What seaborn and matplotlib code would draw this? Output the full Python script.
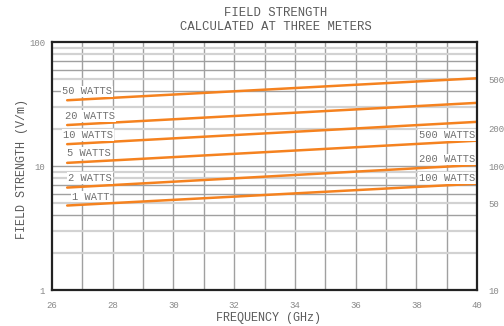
import numpy as np
import pandas as pd
import matplotlib
matplotlib.use("Agg")
import matplotlib.pyplot as plt
import seaborn as sns

# line end points (V/m at 26.5 GHz and 40 GHz)
freq_start = 26.5
freq_end = 40.0
powers = ['1 WATT', '2 WATTS', '5 WATTS', '10 WATTS', '20 WATTS', '50 WATTS']
e_start = [4.8, 6.7, 10.6, 15.0, 21.4, 33.9]
e_end = [7.2, 10.2, 16.0, 22.7, 32.3, 51.0]

# labels on the right side (higher power, read against the right scale)
right_labels = ['500 WATTS', '200 WATTS', '100 WATTS']

right_ticks = [10, 50, 100, 200, 500]
x_ticks = [26, 28, 30, 32, 34, 36, 38, 40]

rows = []
for p, a, b in zip(powers, e_start, e_end):
    rows.append({'freq': freq_start, 'field': a, 'power': p})
    rows.append({'freq': freq_end, 'field': b, 'power': p})
df = pd.DataFrame(rows)

sns.set_style("white")
plt.rcParams['font.family'] = ['Liberation Mono', 'DejaVu Sans Mono']

orange = '#f5821f'
txt = '#707070'
tick_c = '#888888'

fig = plt.figure(figsize=(5.04, 3.26), dpi=100)
ax = fig.add_axes([52 / 504, 1 - 290 / 326, 425 / 504, 248 / 326])

# grid
for x in range(27, 40):
    ax.axvline(x, color='#a0a0a0', lw=1.0, zorder=1)
dark_h = [4, 6, 7, 10, 40, 60, 70]
light_h = [2, 3, 5, 8, 9, 20, 30, 50, 80, 90]
for v in dark_h:
    ax.axhline(v, color='#a0a0a0', lw=1.0, zorder=1)
for v in light_h:
    ax.axhline(v, color='#d2d2d2', lw=1.6, zorder=1)

sns.lineplot(data=df, x='freq', y='field', hue='power',
             palette=[orange] * len(powers), lw=1.8, legend=False,
             ax=ax, zorder=3)

ax.set_yscale('log')
ax.set_xlim(26, 40)
ax.set_ylim(1, 100)
ax.set_xticks(x_ticks)
ax.set_xticklabels([str(t) for t in x_ticks])
ax.set_yticks([1, 10, 100])
ax.set_yticklabels(['1', '10', '100'])
ax.yaxis.set_minor_locator(matplotlib.ticker.NullLocator())
ax.tick_params(axis='both', length=0, labelsize=6.5, colors=tick_c)
ax.tick_params(axis='x', pad=8)
ax.tick_params(axis='y', pad=5)
ax.set_xlabel('')
ax.set_ylabel('')
for s in ax.spines.values():
    s.set_color('#222222')
    s.set_linewidth(1.6)
    s.set_zorder(5)

ax2 = ax.twinx()
ax2.set_yscale('log')
ax2.set_ylim(10, 1000)
ax2.set_yticks(right_ticks)
ax2.set_yticklabels([str(t) for t in right_ticks])
ax2.yaxis.set_minor_locator(matplotlib.ticker.NullLocator())
ax2.tick_params(axis='y', length=0, labelsize=6.5, colors=tick_c, pad=8)
for s in ax2.spines.values():
    s.set_visible(False)

# power labels
left_pos = [(26.66, 5.66), (26.53, 8.0), (26.49, 12.7),
            (26.36, 17.8), (26.43, 25.3), (26.33, 40.0)]
right_pos = [(38.1, 17.8), (38.1, 11.3), (38.1, 8.0)]
box = dict(facecolor='white', edgecolor='none', pad=0.6)
for lab, (x, y) in zip(powers, left_pos):
    ax.text(x, y, lab, ha='left', va='center', fontsize=7.5, color=txt,
            bbox=box, zorder=4)
for lab, (x, y) in zip(right_labels, right_pos):
    ax.text(x, y, lab, ha='left', va='center', fontsize=7.5, color=txt,
            bbox=box, zorder=4)

fig.text(276 / 504, 1 - 13 / 326, 'FIELD STRENGTH', ha='center', va='center',
         fontsize=8.8, color='#5a5a5a')
fig.text(276 / 504, 1 - 27 / 326, 'CALCULATED AT THREE METERS', ha='center',
         va='center', fontsize=8.8, color='#5a5a5a')
fig.text(268 / 504, 1 - 318 / 326, 'FREQUENCY (GHz)', ha='center', va='center',
         fontsize=8.5, color='#5a5a5a')
fig.text(22 / 504, 1 - 169 / 326, 'FIELD STRENGTH (V/m)', ha='center',
         va='center', rotation=90, fontsize=8.5, color='#5a5a5a')

fig.savefig('out.png', dpi=100)
